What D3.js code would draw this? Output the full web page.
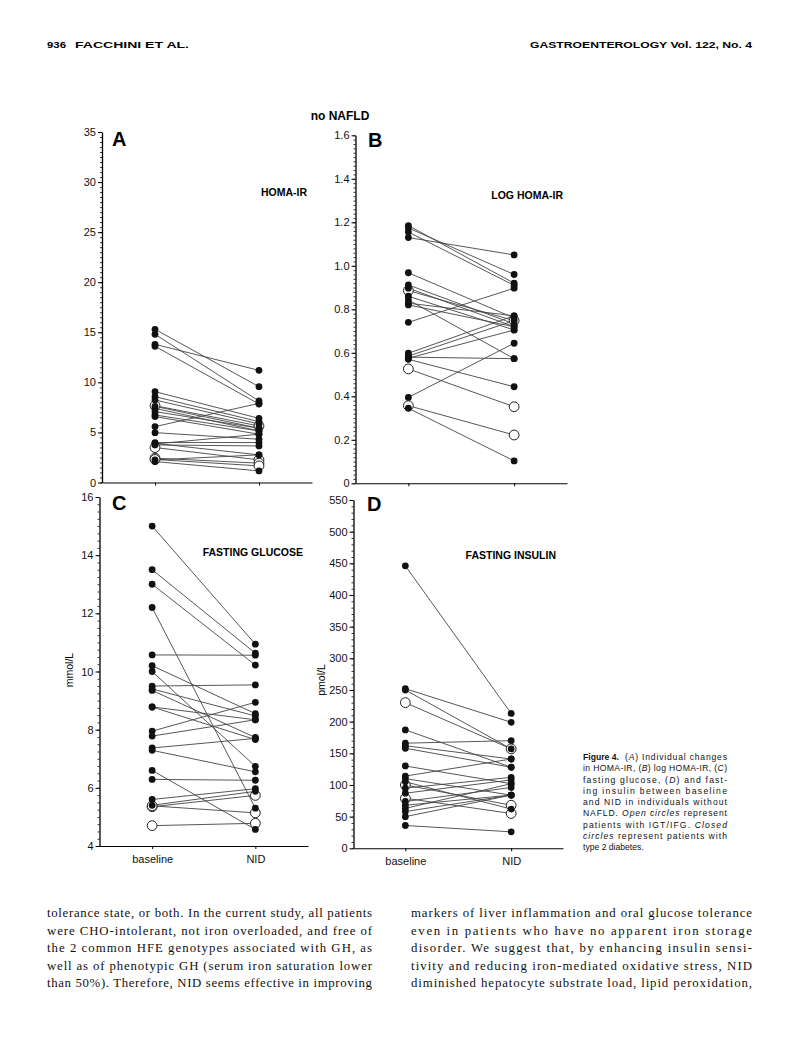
<!DOCTYPE html>
<html>
<head>
<meta charset="utf-8">
<script src="https://cdn.jsdelivr.net/npm/d3@7"></script>
<style>
  body { margin: 0; background: #fff; }
  svg { display: block; }
  .tick text { font-family: "Liberation Sans", Arial, sans-serif; }
</style>
</head>
<body>
<div id="page"></div>
<script>
// time points
const timePoints = ["baseline", "NID"];

// A: HOMA-IR (o = open circle, IGT/IFG; c = closed, type 2 diabetes)
const homaBaseline = [15.3, 14.8, 13.8, 13.6, 9.07, 8.57, 8.24, 7.67, 7.6, 7.4, 7.08, 6.74, 6.58, 5.58, 4.98, 3.99, 3.85, 3.75, 3.49, 3.9, 2.43, 2.3, 2.09, 2.26];
const homaNID      = [9.57, 8.14, 11.2, 7.84, 6.41, 6.08, 5.85, 5.65, 5.42, 5.15, 5.42, 5.15, 4.82, 7.9, 4.32, 3.99, 4.82, 3.65, 2.26, 2.76, 1.93, 1.66, 1.16, 2.76];
const homaGroup    = ["c","c","c","c","c","c","c","o","c","c","c","c","c","c","c","c","c","c","o","c","o","o","c","c"];
const homaTicks = [0, 5, 10, 15, 20, 25, 30, 35];

// B: log HOMA-IR
const logBaseline = [1.185, 1.174, 1.155, 1.13, 0.968, 0.912, 0.897, 0.886, 0.86, 0.843, 0.828, 0.82, 0.74, 0.598, 0.585, 0.58, 0.575, 0.57, 0.526, 0.395, 0.357, 0.345];
const logNID      = [0.92, 0.96, 0.91, 1.05, 0.76, 0.733, 0.72, 0.748, 0.705, 0.573, 0.77, 0.72, 0.897, 0.77, 0.748, 0.573, 0.705, 0.444, 0.352, 0.644, 0.222, 0.103];
const logGroup    = ["c","c","c","c","c","c","c","o","c","c","c","c","c","c","c","c","c","c","o","c","o","c"];
const logTicks = [0, 0.2, 0.4, 0.6, 0.8, 1.0, 1.2, 1.4, 1.6];

// C: fasting glucose, mmol/L
const glucoseBaseline = [15.0, 13.5, 13.0, 12.2, 10.57, 10.2, 10.0, 9.5, 9.4, 9.35, 8.78, 8.78, 7.95, 7.78, 7.37, 7.29, 6.6, 6.29, 5.6, 5.4, 5.35, 5.38, 4.7];
const glucoseNID      = [10.94, 10.63, 10.22, 5.3, 10.56, 8.55, 6.74, 9.54, 8.47, 7.73, 8.34, 7.66, 8.94, 8.34, 7.7, 6.55, 4.57, 6.26, 5.97, 5.88, 5.74, 5.14, 4.78];
const glucoseGroup    = ["c","c","c","c","c","c","c","c","c","c","c","c","c","c","c","c","c","c","c","c","o","o","o"];
const glucoseTicks = [4, 6, 8, 10, 12, 14, 16];

// D: fasting insulin, pmol/L
const insulinBaseline = [446, 252, 250, 230, 187, 166, 162, 158, 130, 114, 110, 105, 100, 95, 87, 79, 74, 68, 63, 58, 50, 36];
const insulinNID      = [213, 199, 157, 157, 128, 170, 141, 128, 102, 141, 84, 62, 68, 112, 108, 55, 96, 84, 102, 84, 84, 26];
const insulinGroup    = ["c","c","c","o","c","c","c","c","c","c","c","c","o","c","c","o","c","c","c","c","c","c"];
const insulinTicks = [0, 50, 100, 150, 200, 250, 300, 350, 400, 450, 500, 550];

const captionLines = [
  "(A) Individual changes",
  "in HOMA-IR, (B) log HOMA-IR, (C)",
  "fasting glucose, (D) and fast-",
  "ing insulin between baseline",
  "and NID in individuals without",
  "NAFLD. Open circles represent",
  "patients with IGT/IFG. Closed",
  "circles represent patients with",
  "type 2 diabetes."
];

const leftText = [
  "tolerance state, or both. In the current study, all patients",
  "were CHO-intolerant, not iron overloaded, and free of",
  "the 2 common HFE genotypes associated with GH, as",
  "well as of phenotypic GH (serum iron saturation lower",
  "than 50%). Therefore, NID seems effective in improving"
];
const rightText = [
  "markers of liver inflammation and oral glucose tolerance",
  "even in patients who have no apparent iron storage",
  "disorder. We suggest that, by enhancing insulin sensi-",
  "tivity and reducing iron-mediated oxidative stress, NID",
  "diminished hepatocyte substrate load, lipid peroxidation,"
];

const width = 792;
const height = 1056;
const sans = "'Liberation Sans', Arial, sans-serif";

const svg = d3.select("#page").append("svg")
  .attr("width", width)
  .attr("height", height);

// page header
svg.append("text")
  .attr("x", 47).attr("y", 48)
  .attr("font-family", sans).attr("font-size", 9.5).attr("font-weight", "bold")
  .attr("textLength", 19).attr("lengthAdjust", "spacingAndGlyphs")
  .text("936");
svg.append("text")
  .attr("x", 75).attr("y", 48)
  .attr("font-family", sans).attr("font-size", 9.5).attr("font-weight", "bold")
  .attr("textLength", 114).attr("lengthAdjust", "spacingAndGlyphs")
  .text("FACCHINI ET AL.");
svg.append("text")
  .attr("x", 530).attr("y", 48)
  .attr("font-family", sans).attr("font-size", 9.5).attr("font-weight", "bold")
  .attr("textLength", 222).attr("lengthAdjust", "spacingAndGlyphs")
  .text("GASTROENTEROLOGY Vol. 122, No. 4");

svg.append("text")
  .attr("x", 340).attr("y", 120)
  .attr("text-anchor", "middle")
  .attr("font-family", sans).attr("font-size", 12).attr("font-weight", "bold")
  .text("no NAFLD");

function drawPanel(p) {
  const g = svg.append("g");

  const y = d3.scaleLinear().domain(p.domain).range([p.bottom, p.top]);
  const x = d3.scalePoint().domain(timePoints)
    .range([p.left, p.right]).padding(p.pad);

  // minor ticks
  const minor = d3.range(p.domain[0], p.domain[1] + p.minor / 2, p.minor);
  g.append("g")
    .attr("transform", `translate(${p.left},0)`)
    .call(d3.axisLeft(y).tickValues(minor).tickSize(2).tickFormat(""))
    .call((a) => a.select(".domain").remove())
    .selectAll("line").attr("stroke", "#333");

  const yAxis = g.append("g")
    .attr("transform", `translate(${p.left},0)`)
    .call(d3.axisLeft(y).tickValues(p.ticks).tickSize(4).tickSizeOuter(0)
      .tickPadding(2).tickFormat(p.format));
  yAxis.select(".domain").attr("stroke-width", 1.3);
  yAxis.selectAll("text").attr("font-size", 11).attr("fill", "#111");

  const xAxis = g.append("g")
    .attr("transform", `translate(0,${p.bottom})`)
    .call(d3.axisBottom(x).tickSize(3).tickSizeOuter(0).tickPadding(6)
      .tickFormat(p.xLabels ? (d) => d : ""));
  xAxis.select(".domain").attr("stroke-width", 1.1);
  xAxis.selectAll("text").attr("font-size", 11).attr("fill", "#111");

  // panel letter and title
  g.append("text")
    .attr("x", p.letterX).attr("y", p.letterY)
    .attr("font-family", sans).attr("font-size", 20).attr("font-weight", "bold")
    .text(p.letter);
  g.append("text")
    .attr("x", p.titleX).attr("y", p.titleY)
    .attr("text-anchor", "end")
    .attr("font-family", sans).attr("font-size", 10.5).attr("font-weight", "bold")
    .text(p.title);

  if (p.unit) {
    g.append("text")
      .attr("transform", `translate(${p.unitX},${p.unitY}) rotate(-90)`)
      .attr("text-anchor", "middle")
      .attr("font-family", sans).attr("font-size", 10.5)
      .text(p.unit);
  }

  const rows = p.base.map((b, i) => ({ b, n: p.nid[i], grp: p.group[i] }));

  g.selectAll("line.pair")
    .data(rows)
    .enter()
    .append("line")
    .attr("class", "pair")
    .attr("x1", x("baseline")).attr("y1", (d) => y(d.b))
    .attr("x2", x("NID")).attr("y2", (d) => y(d.n))
    .attr("stroke", "#444")
    .attr("stroke-width", 0.9);

  const pts = [];
  rows.forEach((d) => {
    pts.push({ t: "baseline", v: d.b, grp: d.grp });
    pts.push({ t: "NID", v: d.n, grp: d.grp });
  });

  g.selectAll("circle.open")
    .data(pts.filter((d) => d.grp === "o"))
    .enter()
    .append("circle")
    .attr("class", "open")
    .attr("cx", (d) => x(d.t)).attr("cy", (d) => y(d.v))
    .attr("r", 4.9)
    .attr("fill", "#fff")
    .attr("stroke", "#222")
    .attr("stroke-width", 1);

  g.selectAll("circle.closed")
    .data(pts.filter((d) => d.grp === "c"))
    .enter()
    .append("circle")
    .attr("class", "closed")
    .attr("cx", (d) => x(d.t)).attr("cy", (d) => y(d.v))
    .attr("r", 3.4)
    .attr("fill", "#111");
}

drawPanel({
  base: homaBaseline, nid: homaNID, group: homaGroup,
  domain: [0, 35], ticks: homaTicks, minor: 0.5, format: d3.format("d"),
  left: 102, right: 312, pad: 0.51, top: 132, bottom: 482.5,
  letter: "A", letterX: 112, letterY: 146,
  title: "HOMA-IR", titleX: 307, titleY: 196
});

drawPanel({
  base: logBaseline, nid: logNID, group: logGroup,
  domain: [0, 1.6], ticks: logTicks, minor: 0.02,
  format: (d) => (d === 0 ? "0" : d3.format(".1f")(d)),
  left: 355.5, right: 567, pad: 0.5, top: 135.3, bottom: 483.3,
  letter: "B", letterX: 368, letterY: 147,
  title: "LOG HOMA-IR", titleX: 563, titleY: 199
});

drawPanel({
  base: glucoseBaseline, nid: glucoseNID, group: glucoseGroup,
  domain: [4, 16], ticks: glucoseTicks, minor: 0.25, format: d3.format("d"),
  left: 99.5, right: 308, pad: 0.51, top: 497, bottom: 846,
  letter: "C", letterX: 112, letterY: 510,
  title: "FASTING GLUCOSE", titleX: 303, titleY: 556,
  xLabels: true, unit: "mmol/L", unitX: 73, unitY: 670
});

drawPanel({
  base: insulinBaseline, nid: insulinNID, group: insulinGroup,
  domain: [0, 550], ticks: insulinTicks, minor: 10, format: d3.format("d"),
  left: 353.5, right: 563, pad: 0.49, top: 500, bottom: 848.3,
  letter: "D", letterX: 367, letterY: 511,
  title: "FASTING INSULIN", titleX: 556, titleY: 559,
  xLabels: true, unit: "pmol/L", unitX: 325, unitY: 680
});

// caption
const cap = svg.append("g")
  .attr("font-family", sans)
  .attr("font-size", 8.6)
  .attr("fill", "#111");
const capY = d3.range(captionLines.length).map((i) => 760 + i * 11.25);
cap.append("text")
  .attr("x", 583).attr("y", capY[0])
  .attr("font-weight", "bold")
  .text("Figure 4.");
captionLines.forEach((line, i) => {
  const t = cap.append("text")
    .attr("x", i === 0 ? 625 : 583)
    .attr("y", capY[i]);
  if (i < captionLines.length - 1) {
    t.attr("textLength", i === 0 ? 102 : 144).attr("lengthAdjust", "spacing");
  }
  // italic fragments
  const parts = line.split(/(\([A-D]\)|Open circles|Closed|circles(?= represent patients with$))/);
  parts.forEach((s) => {
    if (!s) return;
    const it = /^\([A-D]\)$/.test(s) || s === "Open circles" || s === "Closed" || s === "circles";
    if (it && s.length === 3) {
      t.append("tspan").text("(");
      t.append("tspan").attr("font-style", "italic").text(s[1]);
      t.append("tspan").text(")");
    } else {
      t.append("tspan").attr("font-style", it ? "italic" : null).text(s);
    }
  });
});

// body text
const serif = "'Liberation Serif', 'DejaVu Serif', serif";
const body = svg.append("g")
  .attr("font-family", serif)
  .attr("font-size", 12.8)
  .attr("fill", "#111");
leftText.forEach((line, i) => {
  body.append("text")
    .attr("x", 47).attr("y", 917 + i * 17.5)
    .attr("textLength", 325).attr("lengthAdjust", "spacing")
    .text(line);
});
rightText.forEach((line, i) => {
  body.append("text")
    .attr("x", 411).attr("y", 917 + i * 17.5)
    .attr("textLength", 341).attr("lengthAdjust", "spacing")
    .text(line);
});
</script>
</body>
</html>
